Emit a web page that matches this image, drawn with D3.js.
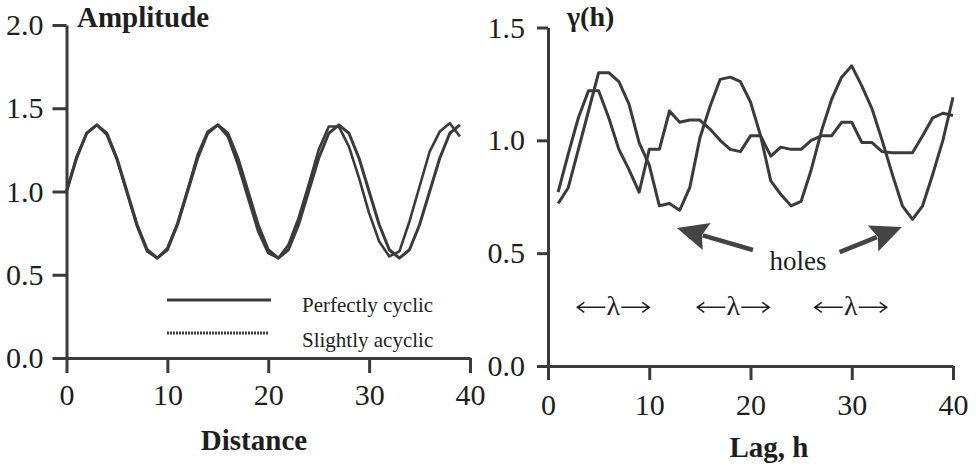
<!DOCTYPE html>
<html>
<head>
<meta charset="utf-8">
<script src="https://cdn.jsdelivr.net/npm/d3@7"></script>
<style>
  html, body { margin: 0; padding: 0; background: #fff; }
  svg { display: block; }
  svg text { font-family: "Liberation Serif", "DejaVu Serif", serif; }
</style>
</head>
<body>
<svg id="chart" width="976" height="466"></svg>
<script>
// ---- Left panel: two signals along distance ----
const distance = [0,1,2,3,4,5,6,7,8,9,10,11,12,13,14,15,16,17,18,19,
                  20,21,22,23,24,25,26,27,28,29,30,31,32,33,34,35,36,37,38,39];
const perfectlyCyclic = [1.00,1.20,1.35,1.40,1.35,1.20,1.00,0.80,0.65,0.60,0.65,0.80,
                         1.00,1.20,1.35,1.40,1.35,1.20,1.00,0.80,0.65,0.60,0.65,0.80,
                         1.00,1.20,1.35,1.40,1.35,1.20,1.00,0.80,0.65,0.60,0.65,0.80,
                         1.00,1.20,1.35,1.40];
const slightlyAcyclic = [1.00,1.21,1.35,1.40,1.34,1.19,0.99,0.79,0.64,0.60,0.66,0.81,
                         1.01,1.22,1.36,1.40,1.33,1.16,0.96,0.76,0.63,0.60,0.68,0.84,
                         1.04,1.25,1.39,1.39,1.27,1.08,0.87,0.70,0.61,0.64,0.82,1.03,
                         1.24,1.36,1.41,1.33];
const distanceTicks = [0,10,20,30,40];
const amplitudeTicks = [0,0.5,1.0,1.5,2.0];
const legendLabels = ["Perfectly cyclic", "Slightly acyclic"];

// ---- Right panel: experimental semivariograms ----
const lag = [1,2,3,4,5,6,7,8,9,10,11,12,13,14,15,16,17,18,19,20,
             21,22,23,24,25,26,27,28,29,30,31,32,33,34,35,36,37,38,39,40];
const gammaCyclic = [0.72,0.79,0.96,1.13,1.30,1.30,1.26,1.16,0.99,0.89,
                     0.71,0.72,0.69,0.79,1.01,1.15,1.27,1.28,1.26,1.17,
                     1.02,0.82,0.76,0.71,0.73,0.87,1.04,1.18,1.28,1.33,
                     1.24,1.14,1.00,0.85,0.71,0.65,0.71,0.85,1.00,1.19];
const gammaAcyclic = [0.77,0.94,1.10,1.22,1.22,1.10,0.96,0.87,0.77,0.96,
                      0.96,1.13,1.08,1.09,1.09,1.05,1.00,0.96,0.95,1.02,
                      1.02,0.93,0.97,0.96,0.96,1.00,1.02,1.02,1.08,1.08,
                      0.99,0.99,0.95,0.945,0.945,0.945,1.02,1.10,1.12,1.11];
const lagTicks = [0,10,20,30,40];
const gammaTicks = [0,0.5,1.0,1.5];
// wavelength markers (lag of centre) and the two "holes" pointers (tail -> tip)
const lambdaMarks = [6.45, 18.3, 29.9];
const lambdaLevel = 0.26;
const holeArrows = [
  { tail: [20.24, 0.514], tip: [12.73, 0.612] },
  { tail: [28.8, 0.505], tip: [34.95, 0.616] }
];

const ink = "#3b3b3b";
const textInk = "#1e1e1e";
const serif = "'Liberation Serif', 'DejaVu Serif', serif";
const svg = d3.select("#chart");

function styleAxis(g, fontSize) {
  g.attr("font-family", null).attr("font-size", null);
  g.select(".domain").attr("stroke", ink).attr("stroke-width", 3);
  g.selectAll(".tick line").attr("stroke", ink).attr("stroke-width", 3);
  g.selectAll(".tick text")
    .attr("fill", textInk)
    .attr("font-family", serif)
    .attr("font-size", fontSize);
}

function label(x, y, txt, size, bold, anchor) {
  return svg.append("text").attr("x", x).attr("y", y)
    .attr("text-anchor", anchor || "start")
    .attr("fill", textInk).attr("font-family", serif)
    .attr("font-size", size).attr("font-weight", bold ? "bold" : "normal")
    .text(txt);
}

// ================= Left panel =================
const xL = d3.scaleLinear().domain([0, 40]).range([66.5, 470]);
const yL = d3.scaleLinear().domain([0, 2]).range([358, 25]);

const gLy = svg.append("g").attr("transform", `translate(${xL(0)},0)`)
  .call(d3.axisLeft(yL).tickValues(amplitudeTicks).tickFormat(d3.format(".1f"))
        .tickSize(14).tickSizeOuter(0).tickPadding(9));
styleAxis(gLy, 30);

const gLx = svg.append("g").attr("transform", `translate(0,${yL(0)})`)
  .call(d3.axisBottom(xL).tickValues(distanceTicks).tickFormat(d3.format("d"))
        .tickSize(15).tickSizeOuter(0));
styleAxis(gLx, 30);
gLx.selectAll(".tick text").attr("dy", null).attr("y", 47);

const lineL = d3.line().x((d, i) => xL(distance[i])).y(d => yL(d));
svg.append("path").datum(slightlyAcyclic)
  .attr("d", lineL).attr("fill", "none").attr("stroke", ink)
  .attr("stroke-width", 2.6).attr("stroke-linejoin", "round");
svg.append("path").datum(perfectlyCyclic)
  .attr("d", lineL).attr("fill", "none").attr("stroke", ink)
  .attr("stroke-width", 3).attr("stroke-linejoin", "round");

// legend
const legend = svg.append("g");
legend.append("line").attr("x1", 167).attr("x2", 271).attr("y1", 300).attr("y2", 300)
  .attr("stroke", ink).attr("stroke-width", 3);
legend.append("line").attr("x1", 167).attr("x2", 268).attr("y1", 333).attr("y2", 333)
  .attr("stroke", ink).attr("stroke-width", 3).attr("stroke-dasharray", "2,1");
legendLabels.forEach((d, i) => label(302, 312 + i * 35, d, 21, false));

label(77, 27, "Amplitude", 29, true);
label(254, 450, "Distance", 29, true, "middle");

// ================= Right panel =================
const xR = d3.scaleLinear().domain([0, 40]).range([548, 953]);
const yR = d3.scaleLinear().domain([0, 1.5]).range([366, 27.5]);

const gRy = svg.append("g").attr("transform", `translate(${xR(0)},0)`)
  .call(d3.axisLeft(yR).tickValues(gammaTicks).tickFormat(d3.format(".1f"))
        .tickSize(11).tickSizeOuter(0).tickPadding(12));
styleAxis(gRy, 30);

const gRx = svg.append("g").attr("transform", `translate(0,${yR(0)})`)
  .call(d3.axisBottom(xR).tickValues(lagTicks).tickFormat(d3.format("d"))
        .tickSize(14).tickSizeOuter(0));
styleAxis(gRx, 30);
gRx.selectAll(".tick text").attr("dy", null).attr("y", 49);

const lineR = d3.line().x((d, i) => xR(lag[i])).y(d => yR(d));
[gammaAcyclic, gammaCyclic].forEach(series => {
  svg.append("path").datum(series)
    .attr("d", lineR).attr("fill", "none").attr("stroke", ink)
    .attr("stroke-width", 3).attr("stroke-linejoin", "round");
});

// wavelength markers: λ with arrows either side
lambdaMarks.forEach(m => {
  const cx = xR(m), cy = yR(lambdaLevel);
  label(cx, cy + 8, "\u03bb", 28, false, "middle");
  [-1, 1].forEach(s => {
    const x0 = cx + s * 8, x1 = cx + s * 36;
    svg.append("path")
      .attr("d", `M${x0},${cy}H${x1}M${x1 - s * 7},${cy - 5}L${x1},${cy}L${x1 - s * 7},${cy + 5}`)
      .attr("fill", "none").attr("stroke", textInk).attr("stroke-width", 1.5);
  });
});

// "holes" pointers
holeArrows.forEach(a => {
  const t = [xR(a.tail[0]), yR(a.tail[1])];
  const p = [xR(a.tip[0]), yR(a.tip[1])];
  const dx = p[0] - t[0], dy = p[1] - t[1];
  const len = Math.hypot(dx, dy);
  const ux = dx / len, uy = dy / len, nx = -uy, ny = ux;
  const headLen = 31, halfW = 14;
  const bx = p[0] - ux * headLen, by = p[1] - uy * headLen;
  svg.append("line").attr("x1", t[0]).attr("y1", t[1]).attr("x2", bx + ux * 4).attr("y2", by + uy * 4)
    .attr("stroke", "#444").attr("stroke-width", 4.5);
  svg.append("path")
    .attr("d", `M${p[0]},${p[1]}L${bx + nx * halfW},${by + ny * halfW}L${bx + ux * 5},${by + uy * 5}L${bx - nx * halfW},${by - ny * halfW}Z`)
    .attr("fill", "#444");
});
label(798, 270, "holes", 27, false, "middle");

label(567, 26, "\u03b3(h)", 28, true);
label(769, 457, "Lag, h", 29, true, "middle");
</script>
</body>
</html>
